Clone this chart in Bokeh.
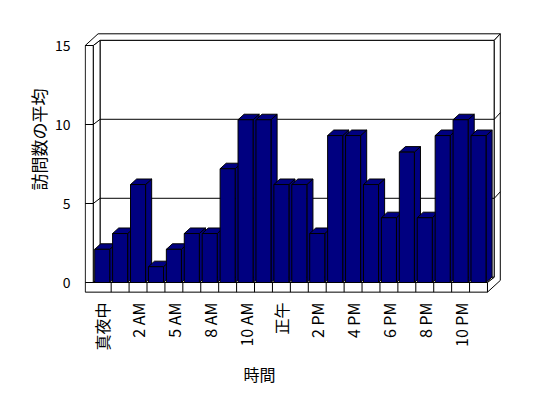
import math
from bokeh.plotting import figure
from bokeh.models import Range1d, FixedTicker, Title
from bokeh.embed import file_html
from bokeh.resources import INLINE

# ---- data ----
hours = ["真夜中", "1 AM", "2 AM", "3 AM", "5 AM", "6 AM", "8 AM", "9 AM",
         "10 AM", "11 AM", "正午", "1 PM", "2 PM", "3 PM", "4 PM", "5 PM",
         "6 PM", "7 PM", "8 PM", "9 PM", "10 PM", "11 PM"]
visits = [2.1, 3.1, 6.2, 1.0, 2.1, 3.1, 3.1, 7.2, 10.3, 10.3, 6.2, 6.2,
          3.1, 9.3, 9.3, 6.2, 4.1, 8.25, 4.1, 9.3, 10.3, 9.3]
y_ticks = [0, 5, 10, 15]
x_title = "時間"
y_title = "訪問数の平均"

FONT = "Noto Sans CJK JP"
NAVY = "#000080"

n = len(hours)
idx = list(range(n))
shown = idx[::2]

# ---- 3D-look geometry (data units) ----
L, R = -0.5, n - 0.5        # floor front edges
wt = 0.446                  # left wall thickness
Dx, Dy = 0.38, 0.33         # depth front plane -> back wall
Tx, Ty = 0.335, 0.41        # back wall thickness
top = y_ticks[-1]
fb = -0.61                  # floor bottom
hw = 0.42                   # half bar width
bdx, bdy = 0.34, 0.35       # bar depth

p = figure(width=528, height=396,
           x_range=Range1d(-0.988, 22.394), y_range=Range1d(-0.696, 15.823),
           output_backend="svg", toolbar_location=None,
           min_border_left=84, min_border_right=25,
           min_border_top=32, min_border_bottom=103)
p.grid.visible = False
p.outline_line_color = None
p.background_fill_color = "white"
p.border_fill_color = "white"

# back walls & floor top
wall_xs = [[L + Dx, R + Dx, R + Dx, L + Dx],
           [L, L + Dx, L + Dx, L],
           [L, R, R + Dx, L + Dx],
           [L - wt, L, L, L - wt],
           [L - wt, L, L + Dx, R + Dx, R + Dx + Tx, L - wt + Dx + Tx],
           [R, R + Dx, R + Dx, R + Dx + Tx, R + Dx + Tx, R]]
wall_ys = [[Dy, Dy, top + Dy, top + Dy],
           [0, Dy, top + Dy, top],
           [0, 0, Dy, Dy],
           [0, 0, top, top],
           [top, top, top + Dy, top + Dy, top + Dy + Ty, top + Dy + Ty],
           [0, Dy, top + Dy, top + Dy + Ty, fb + Dy + Ty, fb]]
p.patches(wall_xs, wall_ys, fill_color="white", line_color="black", line_width=1)

# gridlines
gx, gy = [], []
for v in y_ticks:
    if 0 < v < top:
        gx.append([L - wt, L, L + Dx, R + Dx, R + Dx + Tx])
        gy.append([v, v, v + Dy, v + Dy, v + Dy + Ty])
p.multi_line(gx, gy, line_color="black", line_width=1)

# bars: side + top faces, then fronts
bx, by = [], []
for i, v in zip(idx, visits):
    bx.append([i + hw, i + hw + bdx, i + hw + bdx, i + hw])
    by.append([0, bdy, v + bdy, v])
    bx.append([i - hw, i + hw, i + hw + bdx, i - hw + bdx])
    by.append([v, v, v + bdy, v + bdy])
p.patches(bx, by, fill_color=NAVY, line_color="black", line_width=1)
p.vbar(x=idx, width=2 * hw, bottom=0, top=visits,
       fill_color=NAVY, line_color="black", line_width=1)

# floor front face and category separators
p.patch([L - wt, R, R, L - wt], [fb, fb, 0, 0], fill_color="white",
        line_color="black", line_width=1)
sep = [k + 0.5 for k in idx[:-1]]
p.segment(x0=sep, y0=[0] * len(sep), x1=sep, y1=[fb] * len(sep),
          line_color="black", line_width=1)

# axes
p.xaxis.ticker = FixedTicker(ticks=shown)
p.xaxis.major_label_overrides = {i: hours[i] for i in shown}
p.xaxis.major_label_orientation = math.pi / 2
p.xaxis.major_label_standoff = 9
p.yaxis.ticker = FixedTicker(ticks=y_ticks)
p.yaxis.major_label_standoff = 14
for ax in (p.xaxis, p.yaxis):
    ax.axis_line_color = None
    ax.major_tick_line_color = None
    ax.minor_tick_line_color = None
    ax.major_tick_out = 0
    ax.major_tick_in = 0
    ax.minor_tick_out = 0
    ax.minor_tick_in = 0
    ax.major_label_text_font = FONT
    ax.major_label_text_color = "black"
p.xaxis.major_label_text_font_size = "16px"
p.yaxis.major_label_text_font_size = "14px"

# axis titles
p.add_layout(Title(text=x_title, align="left", offset=159, standoff=12,
                   vertical_align="bottom", text_font=FONT,
                   text_font_size="16px", text_font_style="normal",
                   text_color="black"), "below")
p.add_layout(Title(text=y_title, align="left", offset=103, standoff=1,
                   vertical_align="bottom", text_font=FONT,
                   text_font_size="17px", text_font_style="normal",
                   text_color="black"), "left")

open("out.html", "w").write(file_html(p, INLINE))
